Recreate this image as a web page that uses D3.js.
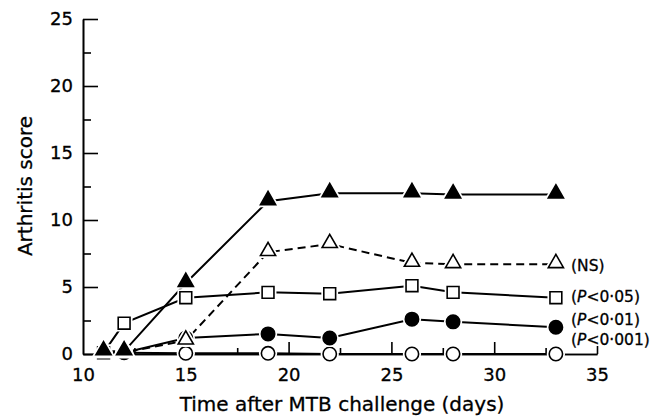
<!DOCTYPE html>
<html>
<head>
<meta charset="utf-8">
<script src="https://cdn.jsdelivr.net/npm/d3@7"></script>
<style>
    body { margin: 0; background: #fff; }
    svg { display: block; font-family: "DejaVu Sans", Verdana, sans-serif; }
    .axis path, .axis line { stroke: #000; stroke-width: 1.6; }
    text { fill: #000; stroke: #000; stroke-width: 0.3; }
</style>
</head>
<body>
<svg width="663" height="418"></svg>
<script>
// Data
let days = [11, 12, 15, 19, 22, 26, 28, 33]
let filledTriangle = [0.2, 0.2, 5.3, 11.4, 12.0, 12.0, 11.9, 11.9]
let openTriangle = [0.1, 0.1, 1.0, 7.6, 8.2, 6.8, 6.7, 6.7]
let openSquare = [0.1, 2.3, 4.2, 4.6, 4.5, 5.1, 4.6, 4.2]
let filledCircle = [0.1, 0.1, 1.2, 1.5, 1.2, 2.6, 2.4, 2.0]
let openCircle = [0.1, 0.1, 0.05, 0.05, 0.0, 0.0, 0.0, 0.0]

let xTicks = [10, 15, 20, 25, 30, 35]
let xMinorTicks = [12.5, 17.5, 22.5, 27.5, 32.5]
let yTicks = [0, 5, 10, 15, 20, 25]
let yMinorTicks = [2.5, 7.5, 12.5, 17.5, 22.5]

let series = [
    { values: openCircle, symbol: 'circle', fill: '#fff', dash: null },
    { values: filledCircle, symbol: 'circle', fill: '#000', dash: null },
    { values: openSquare, symbol: 'square', fill: '#fff', dash: null },
    { values: openTriangle, symbol: 'triangle', fill: '#fff', dash: '8,5' },
    { values: filledTriangle, symbol: 'triangle', fill: '#000', dash: null }
]

// Plot area
let margin = { left: 83, right: 597, top: 19, bottom: 354 }

let scale = {
    x: d3.scaleLinear().domain([10, 35]).range([margin.left, margin.right]),
    y: d3.scaleLinear().domain([0, 25]).range([margin.bottom, margin.top])
}

let svg = d3.select('svg')

// Minor ticks
svg.append('g')
    .attr('class', 'axis')
    .attr('transform', `translate(${margin.left},0)`)
    .call(d3.axisLeft(scale.y).tickValues(yMinorTicks).tickSize(-8).tickSizeOuter(0).tickFormat(''))

svg.append('g')
    .attr('class', 'axis')
    .attr('transform', `translate(0,${margin.bottom})`)
    .call(d3.axisBottom(scale.x).tickValues(xMinorTicks).tickSize(-6).tickSizeOuter(0).tickFormat(''))

// Y axis
let yAxis = svg.append('g')
    .attr('class', 'axis')
    .attr('transform', `translate(${margin.left},0)`)
    .call(d3.axisLeft(scale.y).tickValues(yTicks).tickSize(-15).tickSizeOuter(0).tickPadding(10))

// X axis
let xAxis = svg.append('g')
    .attr('class', 'axis')
    .attr('transform', `translate(0,${margin.bottom})`)
    .call(d3.axisBottom(scale.x).tickValues(xTicks).tickSize(-12).tickSizeOuter(0).tickPadding(14))
xAxis.selectAll('.tick line').filter(d => d === 10).remove()
xAxis.selectAll('.tick line').filter(d => d === 35).attr('y2', -8)

;[xAxis, yAxis].forEach(a => {
    a.attr('font-family', null).attr('font-size', null)
    a.selectAll('text').style('font-size', '18px').style('font-family', '"DejaVu Sans", Verdana, sans-serif')
})

// Lines
let line = d3.line()
    .x((d, i) => scale.x(days[i]))
    .y(d => scale.y(d))

series.forEach(s => {
    svg.append('path')
        .datum(s.values)
        .attr('d', line)
        .attr('fill', 'none')
        .attr('stroke', '#000')
        .attr('stroke-width', 2)
        .attr('stroke-dasharray', s.dash)
})

// Markers
let symbols = {
    circle: d3.symbol(d3.symbolCircle, 140),
    square: d3.symbol(d3.symbolSquare, 140),
    triangle: d3.symbol(d3.symbolTriangle, 100)
}

series.forEach(s => {
    let pts = svg.append('g')
        .selectAll('g')
        .data(s.values)
        .enter()
        .append('g')
        .attr('transform', (d, i) => `translate(${scale.x(days[i])},${scale.y(d) - (s.symbol === 'triangle' ? 1 : 0)})`)
    pts.append('path')
        .attr('d', symbols[s.symbol])
        .attr('fill', 'none')
        .attr('stroke', '#fff')
        .attr('stroke-width', 5)
    pts.append('path')
        .attr('d', symbols[s.symbol])
        .attr('fill', s.fill)
        .attr('stroke', '#000')
        .attr('stroke-width', 1.6)
})

// Significance labels
let labels = [
    { parts: ['(NS)'], y: 271 },
    { parts: ['(', 'P', '<0·05)'], y: 302 },
    { parts: ['(', 'P', '<0·01)'], y: 325 },
    { parts: ['(', 'P', '<0·001)'], y: 345 }
]
labels.forEach(l => {
    let t = svg.append('text')
        .attr('x', 571)
        .attr('y', l.y)
        .attr('font-size', '15.5px')
    l.parts.forEach(p => {
        t.append('tspan')
            .attr('font-style', p === 'P' ? 'italic' : 'normal')
            .text(p)
    })
})

// Axis titles
svg.append('text')
    .attr('x', 342)
    .attr('y', 411)
    .attr('text-anchor', 'middle')
    .attr('font-size', '20px')
    .text('Time after MTB challenge (days)')

svg.append('text')
    .attr('transform', `translate(32,186) rotate(-90)`)
    .attr('text-anchor', 'middle')
    .attr('font-size', '20px')
    .text('Arthritis score')
</script>
</body>
</html>
